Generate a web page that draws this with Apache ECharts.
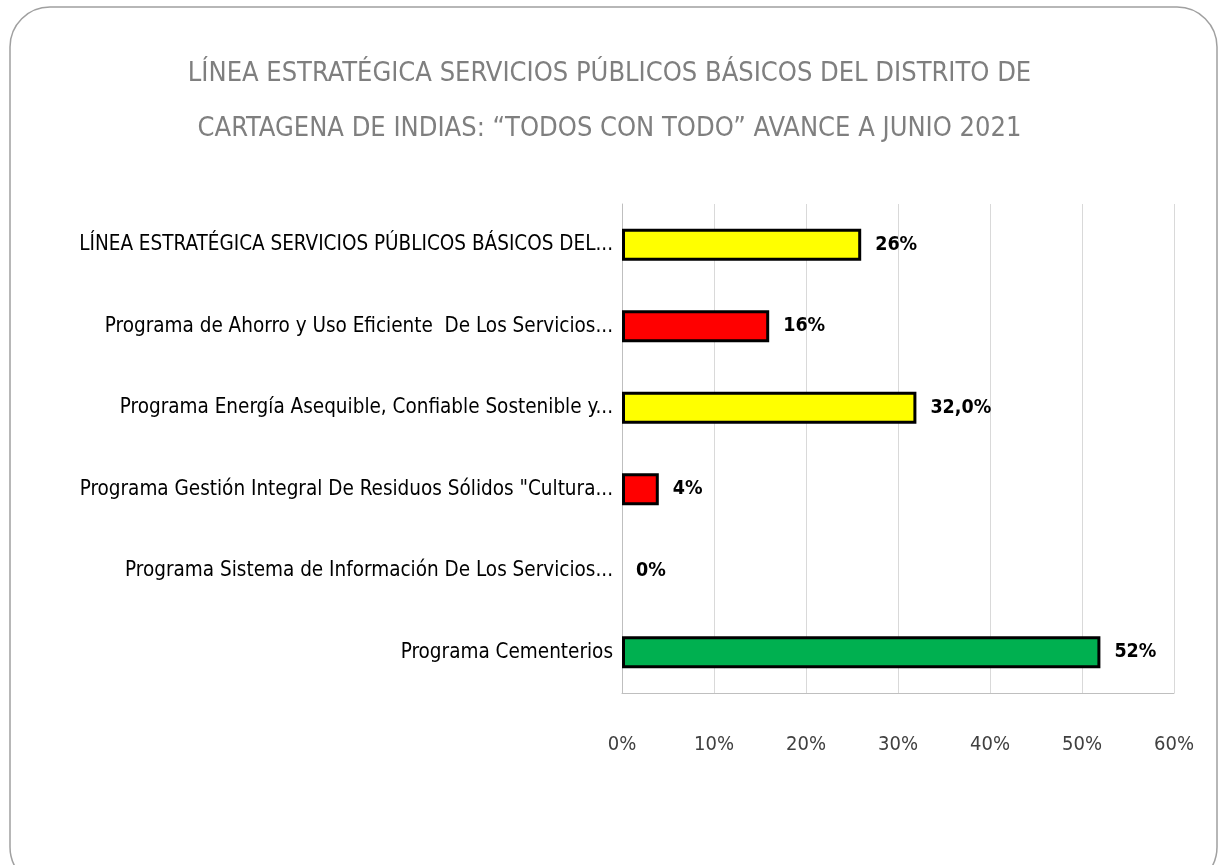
<!DOCTYPE html>
<html>
<head>
<meta charset="utf-8">
<script src="https://cdn.jsdelivr.net/npm/echarts@6/dist/echarts.min.js"></script>
<style>
  html, body { margin: 0; padding: 0; background: #fff; }
  #chart { width: 1219px; height: 865px; }
</style>
</head>
<body>
<div id="chart"></div>
<script>
// categorias (de arriba hacia abajo)
var categories = [
  'LÍNEA ESTRATÉGICA SERVICIOS PÚBLICOS BÁSICOS DEL...',
  'Programa de Ahorro y Uso Eficiente  De Los Servicios...',
  'Programa Energía Asequible, Confiable Sostenible y...',
  'Programa Gestión Integral De Residuos Sólidos "Cultura...',
  'Programa Sistema de Información De Los Servicios...',
  'Programa Cementerios'
];
var avance = [26, 16, 32, 4, 0, 52];
var etiquetas = ['26%', '16%', '32,0%', '4%', '0%', '52%'];
var colores = ['#FFFF00', '#FF0000', '#FFFF00', '#FF0000', '#FF0000', '#00B050'];
var ticks = [0, 10, 20, 30, 40, 50, 60];

var FONT = '"Liberation Sans Narrow", "DejaVu Sans Condensed", "Roboto Condensed", sans-serif';

var chart = echarts.init(document.getElementById('chart'));

var option = {
  animation: false,
  backgroundColor: '#fff',
  title: {
    text: 'LÍNEA ESTRATÉGICA SERVICIOS PÚBLICOS BÁSICOS DEL DISTRITO DE\nCARTAGENA DE INDIAS: “TODOS CON TODO” AVANCE A JUNIO 2021',
    left: 'center',
    top: 41,
    textStyle: {
      fontFamily: FONT,
      fontSize: 27,
      fontWeight: 'normal',
      color: '#7f7f7f',
      lineHeight: 55
    }
  },
  graphic: [{
    type: 'rect',
    silent: true,
    z: -10,
    shape: { x: 10, y: 7, width: 1207, height: 880, r: 40 },
    style: { fill: 'none', stroke: '#a0a0a0', lineWidth: 1.5 }
  }],
  grid: {
    left: 622,
    right: 45,
    top: 204,
    bottom: 172
  },
  xAxis: {
    type: 'value',
    min: ticks[0],
    max: ticks[ticks.length - 1],
    interval: 10,
    axisLine: { show: true, lineStyle: { color: '#bfbfbf', width: 1 } },
    axisTick: { show: false },
    splitLine: { show: true, lineStyle: { color: '#d9d9d9', width: 1 } },
    axisLabel: {
      margin: 42,
      formatter: '{value}%',
      fontFamily: FONT,
      fontSize: 20,
      color: '#404040'
    }
  },
  yAxis: {
    type: 'category',
    inverse: true,
    data: categories,
    axisLine: { show: true, lineStyle: { color: '#bfbfbf', width: 1 } },
    axisTick: { show: false },
    axisLabel: {
      margin: 9,
      fontFamily: FONT,
      fontSize: 20.5,
      color: '#000'
    }
  },
  series: [{
    type: 'bar',
    barWidth: 32,
    data: avance.map(function (v, i) {
      return {
        value: v,
        itemStyle: { color: colores[i], borderWidth: v === 0 ? 0 : 3 }
      };
    }),
    itemStyle: { borderColor: '#000', borderWidth: 3 },
    label: {
      show: true,
      position: 'right',
      distance: 14,
      fontFamily: FONT,
      fontSize: 19.5,
      fontWeight: 'bold',
      color: '#000',
      formatter: function (p) { return etiquetas[p.dataIndex]; }
    }
  }]
};

chart.setOption(option);
</script>
</body>
</html>
